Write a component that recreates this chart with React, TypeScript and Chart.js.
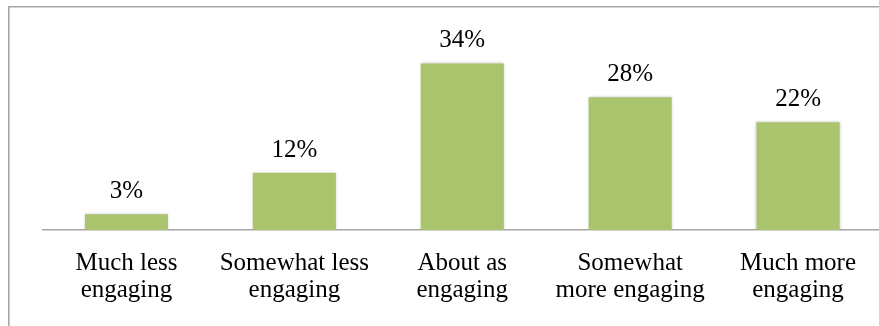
import React, { useEffect, useRef } from "react";
import { Chart, registerables } from "chart.js";

Chart.register(...registerables);

const categories: string[][] = [
  ["Much less", "engaging"],
  ["Somewhat less", "engaging"],
  ["About as", "engaging"],
  ["Somewhat", "more engaging"],
  ["Much more", "engaging"],
];
const values: number[] = [3.2, 11.7, 34.0, 27.1, 22.0];
const valueLabels: string[] = ["3%", "12%", "34%", "28%", "22%"];

const FONT_FAMILY = "'Liberation Serif', 'Times New Roman', serif";

const framePlugin = {
  id: "frame",
  beforeDraw(chart: any) {
    const ctx = chart.ctx;
    ctx.save();
    ctx.strokeStyle = "#a6a6a6";
    ctx.lineWidth = 1.6;
    ctx.beginPath();
    ctx.moveTo(8.8, 330);
    ctx.lineTo(8.8, 6.8);
    ctx.lineTo(chart.width + 5, 6.8);
    ctx.stroke();
    ctx.restore();
  },
};

const shadowPlugin = {
  id: "barShadow",
  beforeDatasetDraw(chart: any) {
    const ctx = chart.ctx;
    ctx.save();
    ctx.shadowColor = "rgba(0,0,0,0.22)";
    ctx.shadowBlur = 3;
    ctx.shadowOffsetX = 0;
    ctx.shadowOffsetY = 0;
  },
  afterDatasetDraw(chart: any) {
    chart.ctx.restore();
  },
};

const valueLabelPlugin = {
  id: "valueLabels",
  afterDatasetsDraw(chart: any) {
    const ctx = chart.ctx;
    const meta = chart.getDatasetMeta(0);
    ctx.save();
    ctx.font = `25px ${FONT_FAMILY}`;
    ctx.fillStyle = "#000000";
    ctx.textAlign = "center";
    ctx.textBaseline = "alphabetic";
    meta.data.forEach((bar: any, i: number) => {
      ctx.fillText(valueLabels[i], bar.x, bar.y - 16);
    });
    ctx.restore();
  },
};

export default function App() {
  const canvasRef = useRef<HTMLCanvasElement | null>(null);

  useEffect(() => {
    const canvas = canvasRef.current;
    if (!canvas) return;
    const chart = new Chart(canvas, {
      type: "bar",
      data: {
        labels: categories,
        datasets: [
          {
            data: values,
            backgroundColor: "#A9C46C",
            borderWidth: 0,
            barPercentage: 0.495,
            categoryPercentage: 1.0,
          },
        ],
      },
      options: {
        animation: false,
        responsive: false,
        maintainAspectRatio: false,
        devicePixelRatio: 1,
        layout: { padding: { left: 42.5, right: 0, top: 34, bottom: 0 } },
        plugins: {
          legend: { display: false },
          tooltip: { enabled: false },
          title: { display: false },
        },
        scales: {
          x: {
            offset: true,
            grid: { display: false, drawTicks: false },
            border: { display: true, color: "#a6a6a6", width: 1.6 },
            ticks: {
              color: "#000000",
              font: { family: FONT_FAMILY, size: 25, lineHeight: 27 / 25 },
              padding: 20,
              maxRotation: 0,
              minRotation: 0,
              autoSkip: false,
            },
            afterFit: (scale: any) => {
              scale.height = 96;
            },
          },
          y: {
            display: false,
            min: 0,
            max: 40,
          },
        },
      },
      plugins: [framePlugin, shadowPlugin, valueLabelPlugin],
    });
    return () => chart.destroy();
  }, []);

  return (
    <div
      style={{
        position: "fixed",
        left: 0,
        top: 0,
        width: 879,
        height: 326,
        overflow: "hidden",
        background: "#ffffff",
      }}
    >
      <canvas ref={canvasRef} width={882} height={326} style={{ display: "block" }} />
    </div>
  );
}
